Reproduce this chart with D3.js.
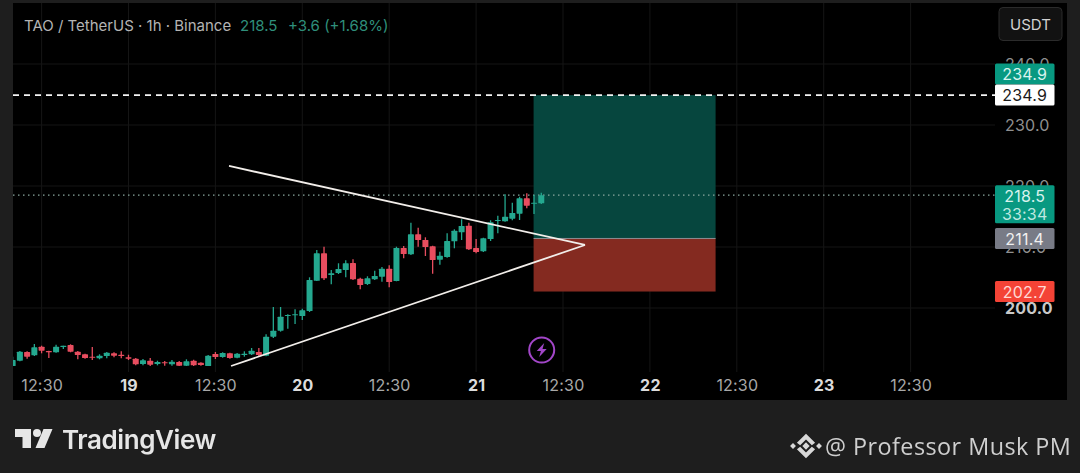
<!DOCTYPE html>
<html><head><meta charset="utf-8">
<script src="https://cdn.jsdelivr.net/npm/d3@7"></script>
<style>
html,body{margin:0;padding:0;background:#1e1e1e;width:1080px;height:473px;overflow:hidden}
svg{display:block;filter:blur(0.4px)}
text{font-family:Inter,Roboto,sans-serif}
</style></head><body>
<svg id="c" width="1080" height="473"></svg>
<script>
const firstHour = -16;
const opens = [190.49,191.36,192.79,192.25,193.66,192.95,192.74,193.61,193.93,192.84,192.41,192.02,191.75,192.13,192.57,192.34,191.92,191.69,190.82,191.36,190.82,191.10,190.77,191.15,190.54,191.36,191.03,190.49,192.46,191.97,192.57,191.85,192.29,192.41,192.79,192.18,195.30,196.28,198.69,198.80,198.69,199.50,204.47,208.97,205.41,205.74,206.23,207.38,204.80,203.93,204.71,205.13,206.44,204.43,209.84,208.80,212.08,211.15,210.11,207.92,208.36,210.93,212.41,213.49,209.84,209.29,211.31,214.26,214.21,214.64,215.46,217.98,217.16,217.16];
const highs = [192.02,192.95,192.90,194.10,193.82,193.00,193.98,193.82,194.05,192.95,192.51,193.61,192.41,192.79,192.74,192.90,192.34,191.80,191.64,191.80,191.36,191.31,191.47,191.31,191.59,191.53,191.10,192.29,192.79,192.74,192.67,192.62,192.90,193.44,193.44,195.69,200.16,200.16,198.97,199.78,199.89,205.03,209.51,210.05,206.23,207.33,207.82,207.98,204.97,205.20,206.12,206.72,207.00,210.05,210.16,213.98,213.16,211.59,210.21,209.23,212.25,212.90,214.54,213.98,211.31,211.52,214.38,215.13,218.64,217.26,218.24,218.80,218.52,218.90];
const lows = [190.49,191.26,191.69,192.13,192.57,191.80,192.67,193.28,192.74,191.59,191.69,191.47,191.59,191.75,191.92,191.75,191.47,190.60,190.60,190.49,190.60,190.54,190.54,190.49,190.49,190.49,190.54,190.49,191.64,191.85,191.69,191.75,192.02,192.29,192.13,192.08,195.08,196.12,196.61,197.38,198.03,199.34,204.43,204.59,203.88,205.57,205.03,204.59,203.07,203.77,204.59,204.31,203.39,204.38,208.15,208.69,210.05,208.52,205.62,207.10,208.25,209.79,211.15,209.51,208.97,209.18,210.98,212.25,214.15,214.38,214.43,216.34,215.41,217.05];
const closes = [191.47,192.84,192.02,193.56,193.00,192.74,193.66,193.82,192.84,192.29,191.80,191.85,192.18,192.67,192.18,192.13,191.69,190.76,191.43,190.71,191.15,190.93,191.20,190.54,191.26,190.60,190.65,192.18,191.97,192.62,191.80,192.51,192.51,192.99,192.29,195.30,196.28,198.57,198.85,198.97,199.62,204.59,208.97,204.87,205.69,206.39,207.33,204.71,203.77,204.87,205.25,206.44,204.26,209.84,208.85,212.08,211.15,210.00,207.87,208.57,210.98,212.67,213.44,209.62,209.18,211.43,214.05,214.43,214.97,215.57,217.98,216.77,217.26,218.50];

const priceTicks = [240,230,220,210,200];
const timeTickHours = [-12,0,12,24,36,48,60,72,84,96,108];
const timeTickLabels = ["12:30","19","12:30","20","12:30","21","12:30","22","12:30","23","12:30"];
const gridHours = [-12,0,12,24,36,48,60,72,84,96,108];

const targetPrice = 234.9, entryPrice = 211.4, stopPrice = 202.7, lastPrice = 218.5;
const boxHours = [55.94,81.07];
const upperTrend = [[13.88,223.28],[63.04,210.33]];
const lowerTrend = [[14.16,190.49],[63.04,210.33]];
const priceLabels = [
  {v:234.9,t:"234.9",bg:"#089981",fg:"#d8f3ee"},
  {v:234.9,t:"234.9",bg:"#ffffff",fg:"#1a1a1a",offset:21},
  {v:211.4,t:"211.4",bg:"#787b86",fg:"#f0f0f0"},
  {v:202.7,t:"202.7",bg:"#f44336",fg:"#ffd9d5"}
];
const title = "TAO / TetherUS · 1h · Binance";
const titleValues = "218.5";
const titleChange = "+3.6 (+1.68%)";

const svg = d3.select("#c");
const L = 13, R = 1067, T = 3, B = 400, AX = 995;
const x = d3.scaleLinear().domain([0,24]).range([128.5,302.3]);
const y = d3.scaleLinear().domain([200,230]).range([308,125]);

svg.append("rect").attr("x",L).attr("y",T).attr("width",R-L).attr("height",B-T).attr("fill","#000");
svg.append("clipPath").attr("id","plot").append("rect").attr("x",L).attr("y",T).attr("width",AX-L).attr("height",B-T);
const plot = svg.append("g").attr("clip-path","url(#plot)");

// grid
plot.append("g").selectAll("line").data(gridHours).join("line")
  .attr("x1",d=>x(d)).attr("x2",d=>x(d)).attr("y1",T).attr("y2",372).attr("stroke","#151515");
plot.append("g").selectAll("line").data(priceTicks).join("line")
  .attr("x1",L).attr("x2",AX).attr("y1",d=>y(d)).attr("y2",d=>y(d)).attr("stroke","#151515");

// risk / reward
plot.append("rect").attr("x",x(boxHours[0])).attr("width",x(boxHours[1])-x(boxHours[0]))
  .attr("y",y(targetPrice)).attr("height",y(entryPrice)-y(targetPrice)).attr("fill","#06463e");
plot.append("rect").attr("x",x(boxHours[0])).attr("width",x(boxHours[1])-x(boxHours[0]))
  .attr("y",y(entryPrice)).attr("height",y(stopPrice)-y(entryPrice)).attr("fill","#842a20");
plot.append("line").attr("x1",x(boxHours[0])).attr("x2",x(boxHours[1])).attr("y1",y(entryPrice)).attr("y2",y(entryPrice)).attr("stroke","#8d8f94").attr("stroke-width",1);

// price lines
plot.append("line").attr("x1",L).attr("x2",AX).attr("y1",y(targetPrice)).attr("y2",y(targetPrice))
  .attr("stroke","#f4f4f4").attr("stroke-width",1.6).attr("stroke-dasharray","6 5");
plot.append("line").attr("x1",L).attr("x2",AX).attr("y1",y(lastPrice)).attr("y2",y(lastPrice))
  .attr("stroke","#8aa89f").attr("stroke-width",1.2).attr("stroke-dasharray","1.5 3.5");

// candles
const GREEN = "#24a88f", RED = "#e84d5f";
const idx = d3.range(opens.length);
const col = i => closes[i] >= opens[i] ? GREEN : RED;
const hx = i => x(firstHour + i);
plot.append("g").selectAll("line").data(idx).join("line")
  .attr("x1",hx).attr("x2",hx).attr("y1",i=>y(highs[i])).attr("y2",i=>y(lows[i]))
  .attr("stroke",col).attr("stroke-width",1.3);
plot.append("g").selectAll("rect").data(idx).join("rect")
  .attr("x",i=>hx(i)-3).attr("width",6)
  .attr("y",i=>y(Math.max(opens[i],closes[i])))
  .attr("height",i=>Math.max(1,Math.abs(y(opens[i])-y(closes[i]))))
  .attr("rx",0.6).attr("fill",col);

// trend lines
const lineGen = d3.line().x(d=>x(d[0])).y(d=>y(d[1]));
[upperTrend,lowerTrend].forEach(t=>{
  plot.append("path").attr("d",lineGen(t)).attr("fill","none").attr("stroke","#f2eeea").attr("stroke-width",1.8);
});

// time axis
const xAxis = d3.axisBottom(x).tickValues(timeTickHours).tickSize(0).tickPadding(0)
  .tickFormat((d,i)=>timeTickLabels[i]);
const gx = svg.append("g").attr("transform","translate(0,379)").call(xAxis);
gx.select(".domain").remove();
gx.selectAll("text").attr("y",0).attr("dy","0.72em").attr("font-size",16)
  .style("font-family","Inter,Roboto,sans-serif").attr("letter-spacing",0.2)
  .attr("fill",(d,i)=>timeTickLabels[i].length<3?"#dcdcdc":"#a8a8a8")
  .attr("font-weight",(d,i)=>timeTickLabels[i].length<3?700:400);

// price axis
const yAxis = d3.axisRight(y).tickValues(priceTicks).tickSize(0).tickPadding(0).tickFormat(d3.format(".1f"));
const gy = svg.append("g").attr("transform","translate(1005,0)").call(yAxis);
gy.select(".domain").remove();
gy.selectAll("text").attr("x",0).attr("font-size",16)
  .style("font-family","Inter,Roboto,sans-serif").attr("letter-spacing",0.2)
  .attr("fill",d=>d===200?"#c8c8c8":"#8f8f8f").attr("font-weight",d=>d===200?700:400);

// price labels
priceLabels.forEach(p=>{
  const top = p.offset ? y(p.v)-10.5 : (p.v===targetPrice ? y(p.v)-31.5 : y(p.v)-10.5);
  svg.append("rect").attr("x",AX).attr("y",top).attr("width",59.5).attr("height",21).attr("rx",1.5).attr("fill",p.bg);
  svg.append("text").attr("x",AX+29.7).attr("y",top+10.8).attr("dy","0.36em").attr("text-anchor","middle")
    .attr("font-size",16).attr("letter-spacing",0.2).attr("fill",p.fg).text(p.t);
});
const lt = y(lastPrice)-10;
svg.append("rect").attr("x",AX).attr("y",lt).attr("width",59.5).attr("height",38).attr("rx",1.5).attr("fill","#089981");
svg.append("text").attr("x",AX+29.7).attr("y",lt+11).attr("dy","0.36em").attr("text-anchor","middle").attr("font-size",16).attr("letter-spacing",0.2).attr("fill","#d8f3ee").text(lastPrice.toFixed(1));
svg.append("text").attr("x",AX+29.7).attr("y",lt+29).attr("dy","0.36em").attr("text-anchor","middle").attr("font-size",16).attr("letter-spacing",0.2).attr("fill","#bfe8e0").text("33:34");

// USDT button
svg.append("rect").attr("x",999).attr("y",7.5).attr("width",63).attr("height",33).attr("rx",4).attr("fill","#121212").attr("stroke","#2b2b2b");
svg.append("text").attr("x",1030.5).attr("y",24.5).attr("dy","0.36em").attr("text-anchor","middle").attr("font-size",15).attr("fill","#d2d2d2").text("USDT");

// header
svg.append("text").attr("x",24).attr("y",31).attr("font-size",15).attr("fill","#b4b4b4").text(title);
svg.append("text").attr("x",240).attr("y",31).attr("font-size",15).attr("fill","#2f8f7b").text(titleValues);
svg.append("text").attr("x",288).attr("y",31).attr("font-size",15).attr("fill","#2f8f7b").text(titleChange);

// lightning marker
const m = svg.append("g").attr("transform","translate(541.7,350)");
m.append("circle").attr("r",12.5).attr("fill","none").attr("stroke","#a246c8").attr("stroke-width",2);
m.append("path").attr("d","M2.5,-7 L-5,1 L-0.8,1 L-2.5,7 L5,-1 L0.8,-1 Z").attr("fill","#a246c8");

// TradingView logo
const tv = svg.append("g").attr("fill","#e6e6e6");
tv.append("path").attr("d","M15,429 H31 V448 H22.5 V437 H15 Z");
tv.append("circle").attr("cx",37).attr("cy",433).attr("r",4);
tv.append("path").attr("d","M43.5,429 H52.5 L44.5,448 H35.5 Z");
svg.append("text").attr("x",62).attr("y",449).attr("font-size",26).attr("font-weight",600).attr("letter-spacing",-0.4).attr("fill","#e6e6e6").text("TradingView");

// Binance mark + handle
const bn = svg.append("g").attr("transform","translate(806,446) scale(1.3)").attr("fill","#d8d8d8");
[-1,1].forEach(s=>{
  bn.append("path").attr("d",`M-7,${s*2.5} L0,${s*9.5} L7,${s*2.5} L4.5,${s*0.5} L0,${s*5} L-4.5,${s*0.5} Z`);
});
bn.append("rect").attr("x",-2).attr("y",-2).attr("width",4).attr("height",4).attr("transform","rotate(45)");
bn.append("rect").attr("x",-11.6).attr("y",-1.6).attr("width",3.2).attr("height",3.2).attr("transform","rotate(45 -10 0)");
bn.append("rect").attr("x",8.4).attr("y",-1.6).attr("width",3.2).attr("height",3.2).attr("transform","rotate(45 10 0)");
svg.append("text").attr("x",825).attr("y",455).attr("font-size",23.4).attr("letter-spacing",0.45)
  .style("font-family","'Open Sans',sans-serif").attr("fill","#cfcfcf").text("@ Professor Musk PM");
</script>
</body></html>
